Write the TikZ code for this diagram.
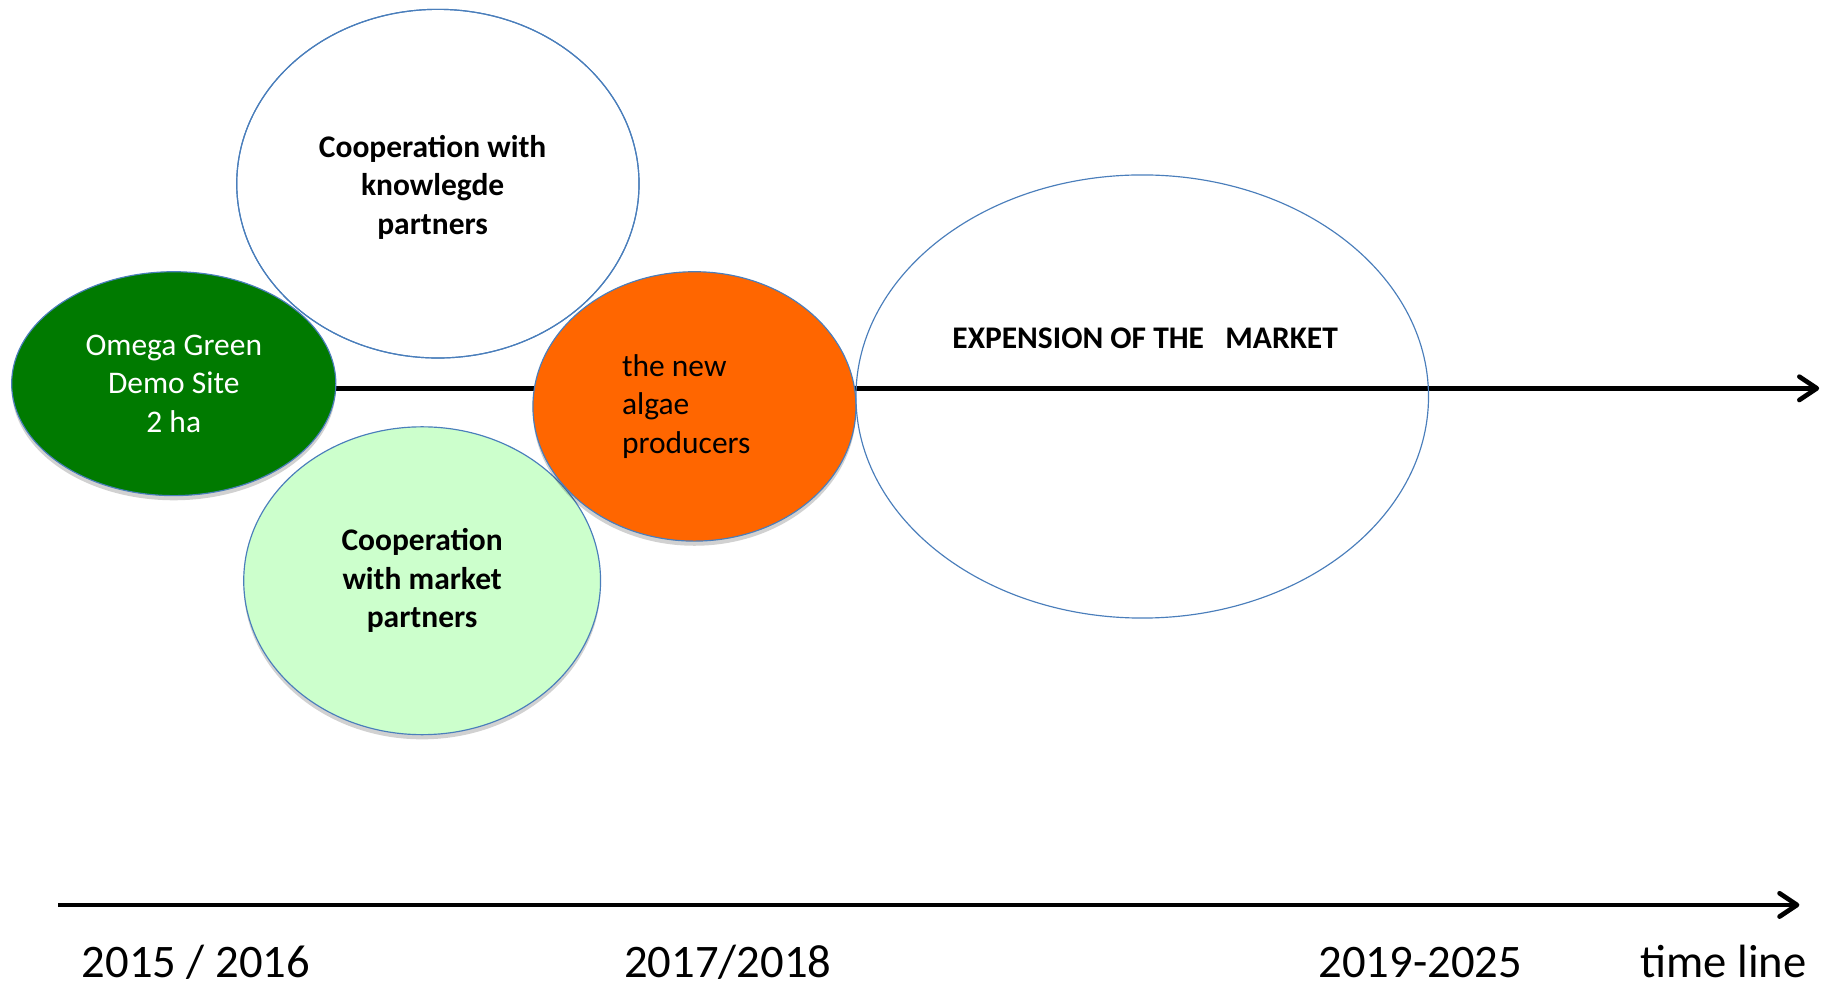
\documentclass[tikz,border=0pt]{standalone}
\usepackage{fontspec}
\setmainfont{Carlito}
\usetikzlibrary{shapes.geometric,arrows.meta,backgrounds,shadows}
\definecolor{olblue}{HTML}{4A7EBB}
\definecolor{dgreen}{HTML}{007A00}
\definecolor{lgreen}{HTML}{CCFFCC}
\definecolor{orng}{HTML}{FF6600}
\begin{document}
\begin{tikzpicture}[x=1pt,y=-1pt,
  bubble/.style={ellipse, draw=olblue, line width=1pt, inner sep=0pt,
     font=\fontsize{27}{33}\selectfont,
     drop shadow={shadow xshift=0pt, shadow yshift=-4pt, opacity=0.18, fill=black}},
  hollow/.style={ellipse, draw=olblue, line width=1pt, inner sep=0pt,
     font=\fontsize{27}{33}\selectfont},
  axis/.style={line width=4pt, -{Straight Barb[length=15pt,width=20pt,line cap=round,line join=round]}},
  year/.style={font=\fontsize{40}{44}\selectfont, anchor=base}
]
\useasboundingbox (0,0) rectangle (1565,847);
% ellipses
\node[hollow, minimum width=345pt, minimum height=299pt] (know) at (375.5,157.5) {};
\node[font=\bfseries\fontsize{27}{33}\selectfont, align=center] (knowtext) at (371,160.5)
  {Cooperation with\\knowlegde\\partners};
\node[bubble, fill=dgreen, text=white, minimum width=278pt, minimum height=192pt, align=center]
  (omega) at (149,329) {Omega Green\\Demo Site\\2 ha};
\node[bubble, fill=lgreen, minimum width=306pt, minimum height=264pt, align=center, font=\bfseries\fontsize{27}{33}\selectfont]
  (market) at (362,498) {Cooperation\\with market\\partners};
\node[bubble, fill=orng, minimum width=277pt, minimum height=231pt, align=left]
  (algae) at (595.5,348.5) {the new\\algae\\producers\hspace*{14pt}};
\node[hollow, minimum width=491pt, minimum height=380pt] (expan) at (979.5,340) {};
\node[font=\bfseries\fontsize{27}{33}\selectfont] (exptext) at (982,290) {EXPENSION OF THE\ \ \ MARKET};
% redraw outline of top ellipse over green
\draw[olblue, line width=1pt] (know.center) ellipse [x radius=172.5pt, y radius=149.5pt];
% connectors
\coordinate (midend) at (1560,333);
\begin{scope}[on background layer]
\draw[axis] (omega.center |- midend) -- (midend);
\end{scope}
\coordinate (axstart) at (50,776);
\coordinate (axend) at (1543,776);
\draw[axis] (axstart) -- (axend);
% labels
\node[year] (y1) at (168,838) {2015 / 2016};
\node[year] (y2) at (624,838) {2017/2018};
\node[year] (y3) at (1218,838) {2019-2025};
\node[year] (tl) at (1478,838) {time line};
\end{tikzpicture}
\end{document}
